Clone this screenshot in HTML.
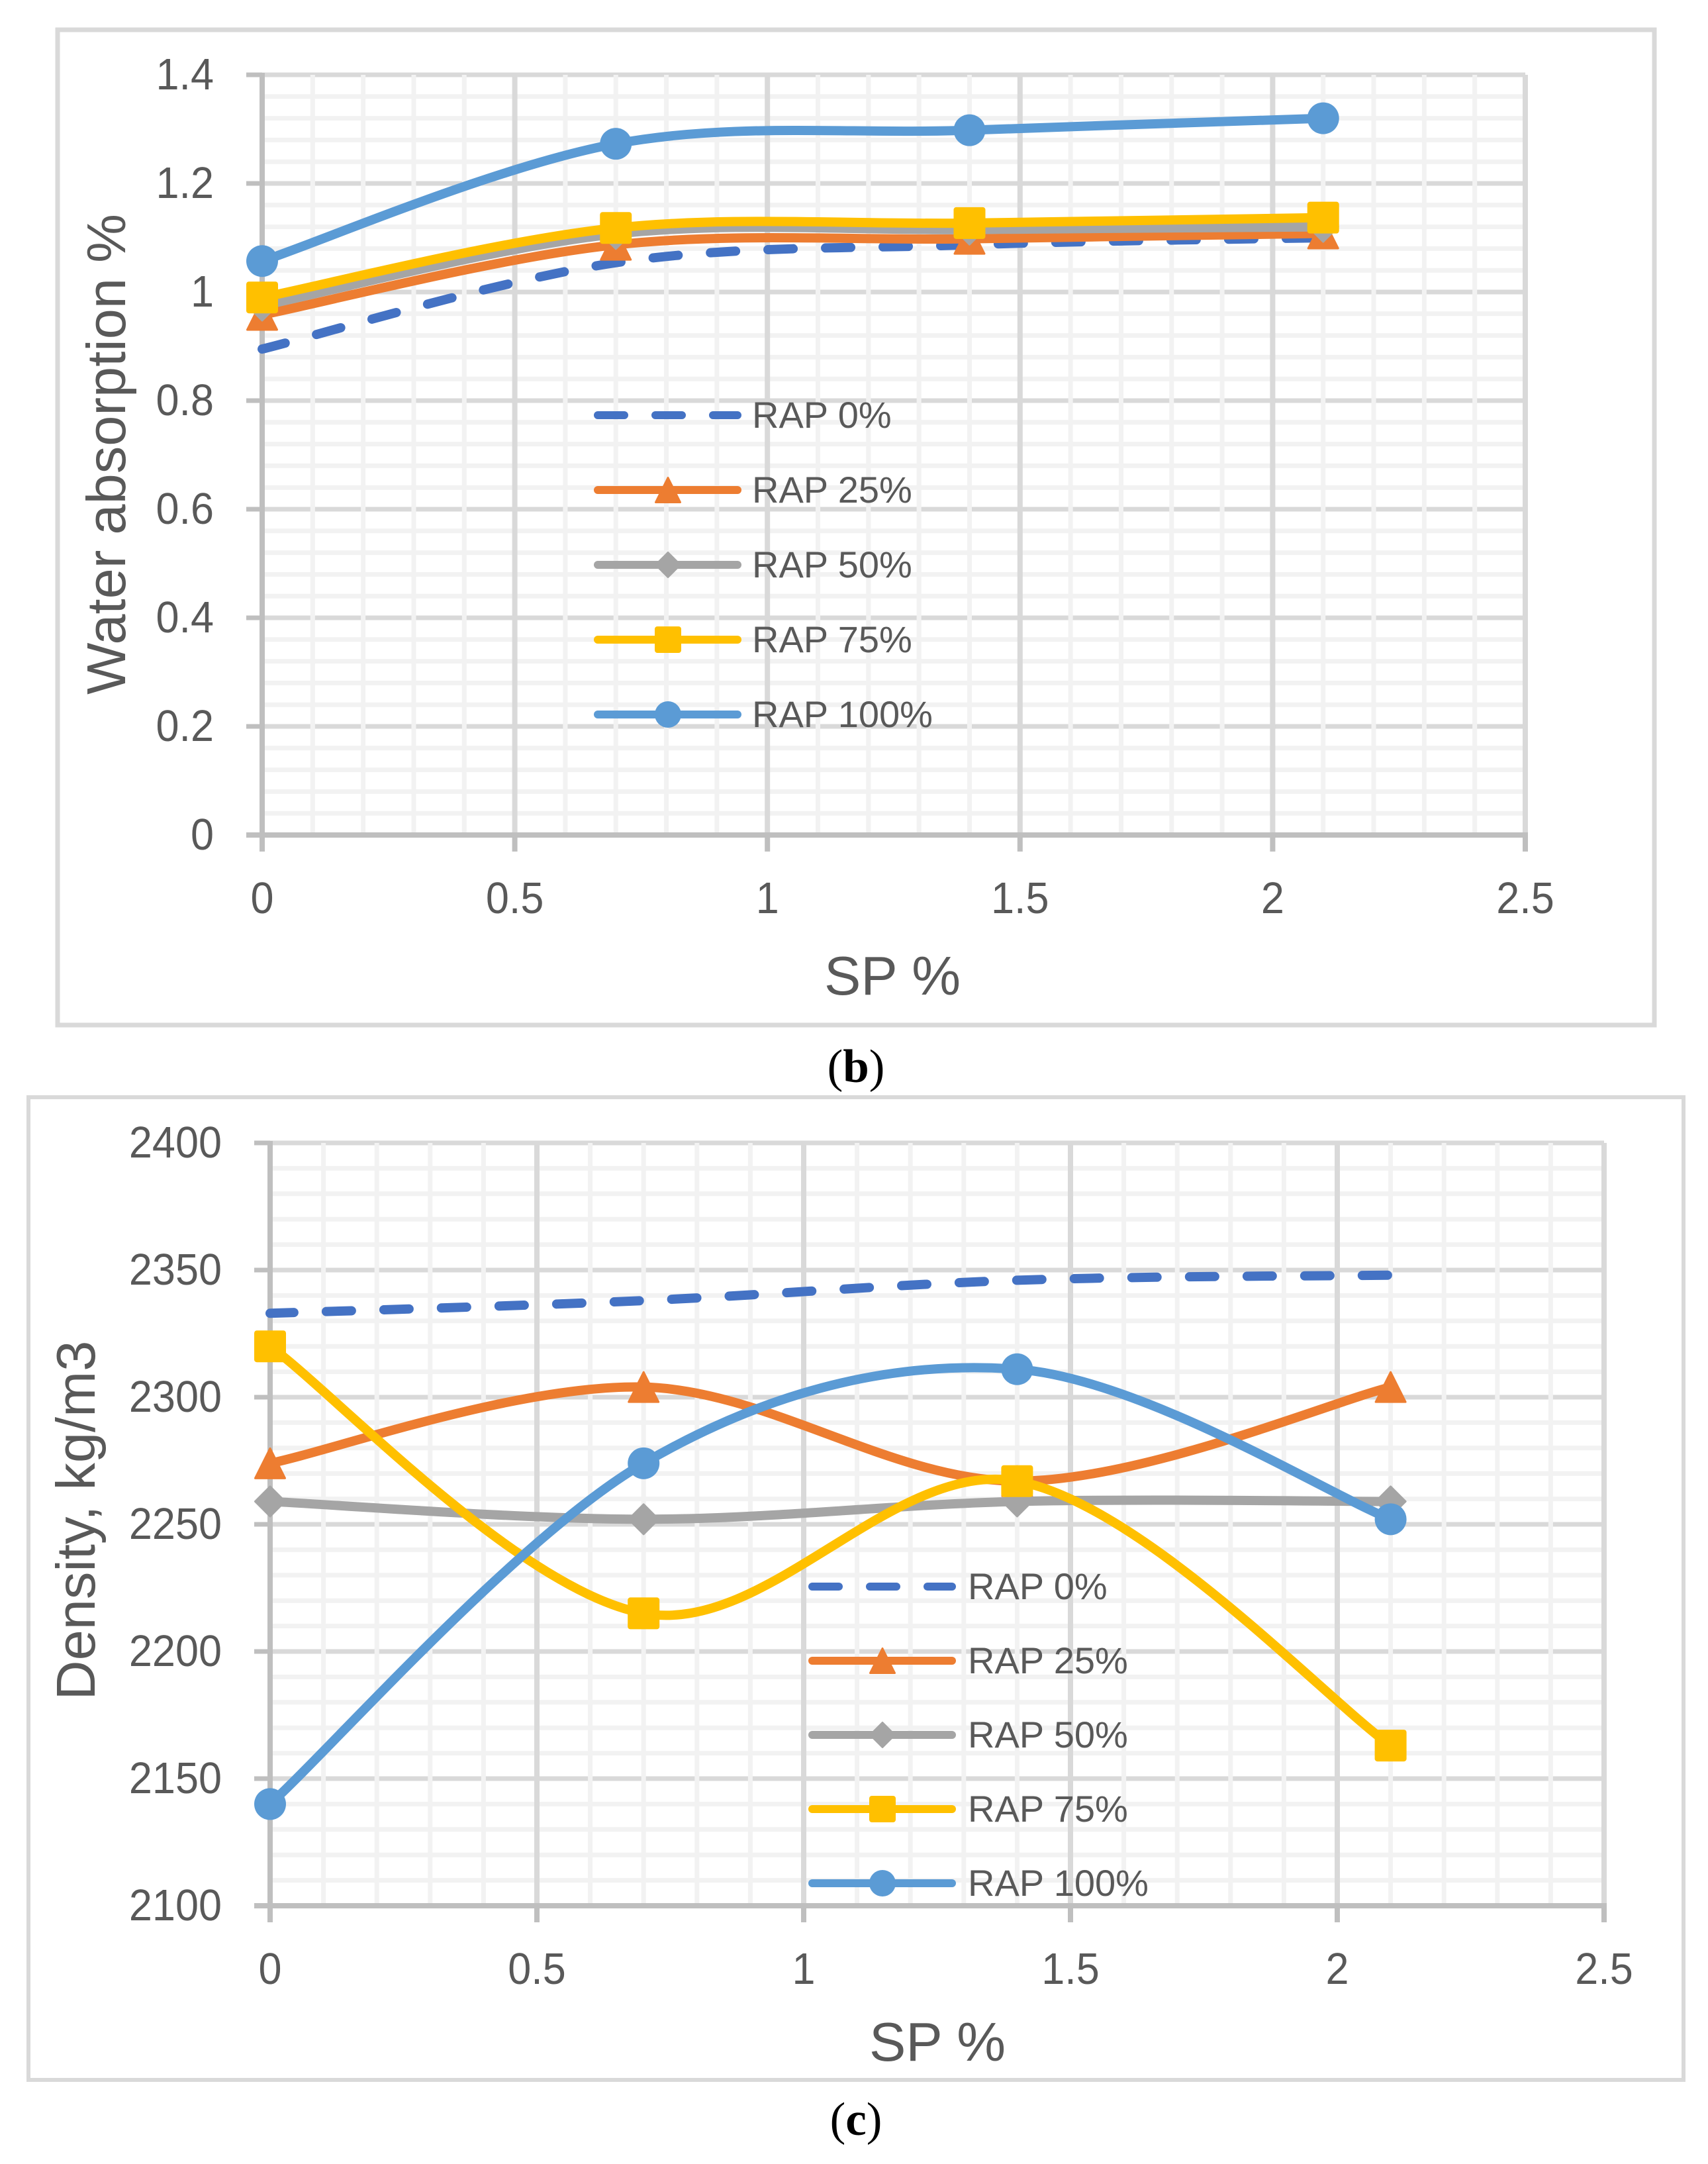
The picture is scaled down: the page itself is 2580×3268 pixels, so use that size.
<!DOCTYPE html>
<html lang="en">
<head>
<meta charset="utf-8">
<title>Water absorption and density vs SP %</title>
<style>
html,body{margin:0;padding:0;background:#fff;width:2580px;height:3268px;overflow:hidden}
svg{display:block;position:absolute;left:0;top:0}
text{font-family:"Liberation Sans",sans-serif;fill:#595959;white-space:pre}
.cap{font-family:"Liberation Serif",serif;fill:#000;font-size:71px}
</style>
</head>
<body>
<svg id="figure" xmlns="http://www.w3.org/2000/svg" width="2580" height="3268" viewBox="0 0 2580 3268">
  <rect x="87" y="45" width="2412" height="1503" fill="#fff" stroke="#d9d9d9" stroke-width="7"/>
  <rect x="43" y="1657" width="2500" height="1484" fill="#fff" stroke="#d9d9d9" stroke-width="6"/>
  <g id="chartB"></g>
  <g id="chartC"></g>
  <text class="cap" x="1293" y="1634" text-anchor="middle">(<tspan font-weight="bold">b</tspan>)</text>
  <text class="cap" x="1293" y="3224" text-anchor="middle">(<tspan font-weight="bold">c</tspan>)</text>
</svg>
<script>
// Shared data
const spValues = [0, 0.7, 1.4, 2.1];
const seriesNames = ['RAP 0%', 'RAP 25%', 'RAP 50%', 'RAP 75%', 'RAP 100%'];
const seriesColors = ['#4472c4', '#ed7d31', '#a5a5a5', '#ffc000', '#5b9bd5'];
const seriesMarkers = ['none', 'triangle', 'diamond', 'square', 'circle'];
const xTicks = [0, 0.5, 1, 1.5, 2, 2.5];

// Chart (b) water absorption
const absorptionRap0 = [0.895, 1.054, 1.087, 1.1];
const absorptionRap25 = [0.958, 1.087, 1.098, 1.108];
const absorptionRap50 = [0.975, 1.107, 1.115, 1.12];
const absorptionRap75 = [0.99, 1.118, 1.127, 1.137];
const absorptionRap100 = [1.057, 1.273, 1.298, 1.32];
const absorptionTicks = [0, 0.2, 0.4, 0.6, 0.8, 1, 1.2, 1.4];

// Chart (c) density
const densityRap0 = [2333, 2338, 2346, 2348];
const densityRap25 = [2274, 2304, 2267, 2304];
const densityRap50 = [2259, 2252, 2259, 2259];
const densityRap75 = [2320, 2215, 2267, 2163];
const densityRap100 = [2140, 2274, 2311, 2252];
const densityTicks = [2100, 2150, 2200, 2250, 2300, 2350, 2400];

const NS = 'http://www.w3.org/2000/svg';
function make(tag, parent, attrs, name) {
  const node = document.createElementNS(NS, tag);
  for (const k in attrs) node.setAttribute(k, attrs[k]);
  
  
  parent.appendChild(node);
  return node;
}

function smoothPath(pts) {
  let d = 'M' + pts[0][0] + ' ' + pts[0][1];
  for (let i = 0; i < pts.length - 1; i++) {
    const p0 = pts[Math.max(i - 1, 0)], p1 = pts[i], p2 = pts[i + 1], p3 = pts[Math.min(i + 2, pts.length - 1)];
    const c1x = p1[0] + (p2[0] - p0[0]) / 6, c1y = p1[1] + (p2[1] - p0[1]) / 6;
    const c2x = p2[0] - (p3[0] - p1[0]) / 6, c2y = p2[1] - (p3[1] - p1[1]) / 6;
    d += ' C' + c1x + ' ' + c1y + ' ' + c2x + ' ' + c2y + ' ' + p2[0] + ' ' + p2[1];
  }
  return d;
}

function drawMarker(parent, kind, cx, cy, r, color, name) {
  const round = {stroke: color, 'stroke-width': 3, 'stroke-linejoin': 'round', fill: color};
  const inner = r - 1.5;
  if (kind === 'triangle') {
    make('polygon', parent, Object.assign({points: cx + ',' + (cy - inner) + ' ' + (cx + inner) + ',' + (cy + inner) + ' ' + (cx - inner) + ',' + (cy + inner)}, round), name);
  } else if (kind === 'diamond') {
    make('polygon', parent, Object.assign({points: cx + ',' + (cy - inner) + ' ' + (cx + inner) + ',' + cy + ' ' + cx + ',' + (cy + inner) + ' ' + (cx - inner) + ',' + cy}, round), name);
  } else if (kind === 'square') {
    make('rect', parent, {x: cx - r, y: cy - r, width: 2 * r, height: 2 * r, rx: 4, fill: color}, name);
  } else if (kind === 'circle') {
    make('circle', parent, {cx: cx, cy: cy, r: r, fill: color}, name);
  }
}

function tickLabel(parent, x, y, anchor, value, name) {
  const label = make('text', parent, {transform: 'translate(' + x + ' ' + y + ') scale(0.94 1)', 'text-anchor': anchor, 'font-size': 67}, name);
  label.textContent = String(value);
}

function drawChart(root, box, series, yTicks, yMinorStep, yTitle, legend) {
  const xMin = xTicks[0], xMax = xTicks[xTicks.length - 1];
  const yMin = yTicks[0], yMax = yTicks[yTicks.length - 1];
  const sx = v => box.left + (v - xMin) / (xMax - xMin) * (box.right - box.left);
  const sy = v => box.bottom - (v - yMin) / (yMax - yMin) * (box.bottom - box.top);
  const grid = make('g', root, {}, 'gridlines');

  // horizontal major
  yTicks.forEach(t => {
    make('line', grid, {x1: box.left, x2: box.right, y1: sy(t), y2: sy(t), stroke: '#d9d9d9', 'stroke-width': 7}, 'major-gridline-y');
  });
  // horizontal minor
  const yStep = yTicks[1] - yTicks[0];
  const yCount = Math.round((yMax - yMin) / yMinorStep);
  for (let i = 1; i < yCount; i++) {
    const v = yMin + i * yMinorStep;
    if (Math.abs(Math.round((v - yMin) / yStep) * yStep - (v - yMin)) < 1e-6) continue;
    make('line', grid, {x1: box.left, x2: box.right, y1: sy(v), y2: sy(v), stroke: '#f2f2f2', 'stroke-width': 7}, 'minor-gridline-y');
  }
  // vertical minor
  const xCount = Math.round((xMax - xMin) / 0.1);
  for (let i = 1; i < xCount; i++) {
    if (i % 5 === 0) continue;
    const v = xMin + i * 0.1;
    make('line', grid, {x1: sx(v), x2: sx(v), y1: box.top, y2: box.bottom, stroke: '#f2f2f2', 'stroke-width': 7}, 'minor-gridline-x');
  }
  // vertical major
  xTicks.slice(1).forEach(t => {
    make('line', grid, {x1: sx(t), x2: sx(t), y1: box.top, y2: box.bottom, stroke: '#d9d9d9', 'stroke-width': 8}, 'major-gridline-x');
  });
  // axes
  make('line', root, {x1: box.left, x2: box.left, y1: box.top - 3, y2: box.bottom + 25, stroke: '#bfbfbf', 'stroke-width': 8}, 'y-axis-line');
  make('line', root, {x1: box.left - 24, x2: box.right + 4, y1: box.bottom, y2: box.bottom, stroke: '#bfbfbf', 'stroke-width': 8}, 'x-axis-line');
  // ticks + labels
  yTicks.forEach(t => {
    make('line', root, {x1: box.left - 24, x2: box.left, y1: sy(t), y2: sy(t), stroke: '#bfbfbf', 'stroke-width': 7}, 'y-tick');
    tickLabel(root, box.yLabelX, sy(t) + 22, 'end', t, 'y-tick-label');
  });
  xTicks.forEach(t => {
    make('line', root, {x1: sx(t), x2: sx(t), y1: box.bottom, y2: box.bottom + 25, stroke: '#bfbfbf', 'stroke-width': 8}, 'x-tick');
    tickLabel(root, sx(t), box.xLabelY, 'middle', t, 'x-tick-label');
  });
  // titles
  const xt = make('text', root, {x: box.xTitleX, y: box.xTitleY, 'text-anchor': 'middle', 'font-size': 83}, 'x-axis-title');
  xt.textContent = 'SP %';
  const yt = make('text', root, {transform: 'translate(' + box.yTitleX + ' ' + box.yTitleY + ') rotate(-90)', 'text-anchor': 'middle', 'font-size': 83}, 'y-axis-title');
  yt.textContent = yTitle;

  // series
  series.forEach((vals, s) => {
    const g = make('g', root, {}, 'series-' + seriesNames[s].toLowerCase().replace(/[ %]+/g, '-').replace(/-$/, ''));
    const pts = vals.map((v, i) => [sx(spValues[i]), sy(v)]);
    const attrs = {d: smoothPath(pts), fill: 'none', stroke: seriesColors[s], 'stroke-width': 14, 'stroke-linecap': 'round', 'stroke-linejoin': 'round'};
    if (s === 0) {
      attrs['stroke-dasharray'] = '38 49';
      attrs['stroke-dashoffset'] = '2';
    }
    make('path', g, attrs, 'series-line');
    pts.forEach(p => drawMarker(g, seriesMarkers[s], p[0], p[1], 24, seriesColors[s], 'data-marker'));
  });

  // legend
  const lg = make('g', root, {}, 'legend');
  seriesNames.forEach((nm, s) => {
    const row = make('g', lg, {}, 'legend-entry');
    const y = legend.y + s * legend.dy;
    const attrs = {x1: legend.x + 6, x2: legend.x + 217, y1: y, y2: y, stroke: seriesColors[s], 'stroke-width': 12, 'stroke-linecap': 'round'};
    if (s === 0) attrs['stroke-dasharray'] = '40 47';
    make('line', row, attrs, 'legend-line');
    drawMarker(row, seriesMarkers[s], legend.x + 112, y, 20, seriesColors[s], 'legend-marker');
    const tx = make('text', row, {x: legend.textX, y: y + 19, 'font-size': 56}, 'legend-label');
    tx.textContent = nm;
  });
}

drawChart(document.getElementById('chartB'),
  {left: 396, right: 2304, top: 113, bottom: 1261, yLabelX: 323, xLabelY: 1379, xTitleX: 1348, xTitleY: 1502, yTitleX: 189, yTitleY: 686},
  [absorptionRap0, absorptionRap25, absorptionRap50, absorptionRap75, absorptionRap100],
  absorptionTicks, 0.04, 'Water absorption %',
  {x: 897, y: 627, dy: 113, textX: 1136});

drawChart(document.getElementById('chartC'),
  {left: 408, right: 2423, top: 1726, bottom: 2878, yLabelX: 335, xLabelY: 2996, xTitleX: 1416, xTitleY: 3112, yTitleX: 143, yTitleY: 2296},
  [densityRap0, densityRap25, densityRap50, densityRap75, densityRap100],
  densityTicks, 10, 'Density, kg/m3',
  {x: 1221, y: 2396, dy: 112, textX: 1462});
</script>
</body>
</html>
